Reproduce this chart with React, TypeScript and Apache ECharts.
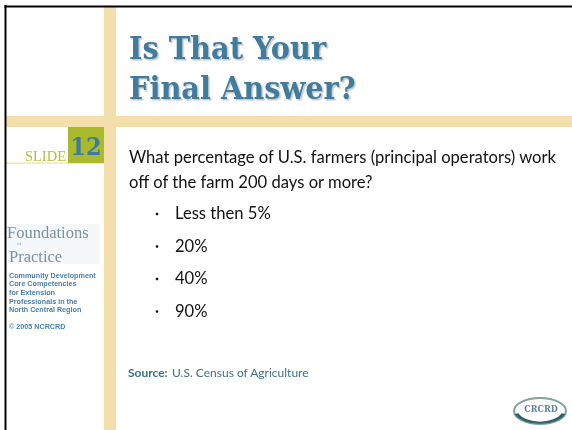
import React, { useEffect, useRef } from "react";
import * as echarts from "echarts";

const titleLines = ["Is That Your", "Final Answer?"];
const slideLabel = "SLIDE";
const slideNumber = "12";
const questionLines = [
  "What percentage of U.S. farmers (principal operators) work",
  "off of the farm 200 days or more?",
];
const answers = ["Less then 5%", "20%", "40%", "90%"];
const panelLines = [
  "Community Development",
  "Core Competencies",
  "for Extension",
  "Professionals in the",
  "North Central Region",
];
const copyright = "© 2005 NCRCRD";
const sourceLabel = "Source:";
const sourceText = "U.S. Census of Agriculture";

const TAN = "#F3DFAB";
const BLUE = "#3F7B9C";
const GREEN = "#ABBA2C";

export default function App() {
  const ref = useRef<HTMLDivElement>(null);
  useEffect(() => {
    if (!ref.current) return;
    const chart = echarts.init(ref.current, null, { renderer: "svg" });
    const els: any[] = [];
    els.push({ type: "rect", shape: { x: 0, y: 0, width: 572, height: 430 }, style: { fill: "#fff" } });
    els.push({ type: "rect", shape: { x: 104, y: 7, width: 12, height: 423 }, style: { fill: TAN } });
    els.push({ type: "rect", shape: { x: 6, y: 116, width: 566, height: 11 }, style: { fill: TAN } });
    els.push({ type: "rect", shape: { x: 6, y: 162.5, width: 98, height: 1.2 }, style: { fill: "#EFE2A8" } });
    els.push({ type: "rect", shape: { x: 68, y: 127, width: 36, height: 36 }, style: { fill: GREEN } });
    els.push({
      type: "text",
      style: { x: 86, y: 146, text: slideNumber, font: "bold 25px 'DejaVu Serif Condensed', 'DejaVu Serif'", fill: BLUE, textAlign: "center", textVerticalAlign: "middle" },
    });
    els.push({
      type: "text",
      style: { x: 66, y: 156, text: slideLabel, font: "14.5px 'Liberation Serif'", fill: "#B3C234", textAlign: "right", textVerticalAlign: "middle" },
    });
    els.push({ type: "rect", shape: { x: 4.5, y: 5, width: 2, height: 425 }, style: { fill: "#000" } });
    els.push({ type: "rect", shape: { x: 4.5, y: 5.5, width: 568, height: 2 }, style: { fill: "#000" } });
    titleLines.forEach((t, i) => {
      const y = 48 + i * 40;
      els.push({
        type: "text",
        style: {
          x: 129, y, text: t, font: "bold 32px 'DejaVu Serif Condensed'", fill: BLUE, textVerticalAlign: "middle",
          textShadowColor: "rgba(120,130,140,0.45)", textShadowOffsetX: 1.5, textShadowOffsetY: 1.5, textShadowBlur: 1.5,
        },
      });
    });
    questionLines.forEach((t, i) => {
      els.push({ type: "text", style: { x: 129, y: 157 + i * 25, text: t, font: "16.6px Lato", fill: "#111", textVerticalAlign: "middle" } });
    });
    answers.forEach((t, i) => {
      const y = 213 + i * 32.5;
      els.push({ type: "circle", shape: { cx: 157, cy: y + 1, r: 1.3 }, style: { fill: "#111" } });
      els.push({ type: "text", style: { x: 175, y, text: t, font: "16.6px Lato", fill: "#111", textVerticalAlign: "middle" } });
    });
    els.push({ type: "text", style: { x: 128, y: 372, text: sourceLabel, font: "bold 12px Lato", fill: "#3E6F8C", textVerticalAlign: "middle" } });
    els.push({ type: "text", style: { x: 172, y: 372, text: sourceText, font: "12px Lato", fill: "#3E6F8C", textVerticalAlign: "middle" } });
    els.push({ type: "rect", shape: { x: 8, y: 224, width: 92, height: 40 }, style: { fill: "#F6F7F9" } });
    els.push({ type: "text", style: { x: 7, y: 232, text: "Foundations", font: "16.5px 'Liberation Serif'", fill: "#7C90A4", textVerticalAlign: "middle" } });
    els.push({ type: "text", style: { x: 17, y: 243.3, text: "of", font: "5px 'Liberation Serif'", fill: "#7C90A4", textVerticalAlign: "middle" } });
    els.push({ type: "text", style: { x: 9, y: 256, text: "Practice", font: "16.5px 'Liberation Serif'", fill: "#7C90A4", textVerticalAlign: "middle" } });
    panelLines.forEach((t, i) => {
      els.push({ type: "text", style: { x: 9, y: 275 + i * 8.7, text: t, font: "bold 7.2px 'Liberation Sans'", fill: "#4A80A9", textVerticalAlign: "middle" } });
    });
    els.push({ type: "text", style: { x: 9, y: 326, text: copyright, font: "bold 7.2px 'Liberation Sans'", fill: "#4A80A9", textVerticalAlign: "middle" } });
    els.push({ type: "ellipse", shape: { cx: 540, cy: 411, rx: 26, ry: 13 }, style: { fill: "#fff", stroke: "#7FA596", lineWidth: 2 } });
    els.push({ type: "arc", shape: { cx: 540, cy: 409, r: 25, startAngle: 0.35, endAngle: Math.PI - 0.35 }, scaleY: 0.55, originY: 409, style: { stroke: "#2F5F6A", lineWidth: 4, fill: "none" } });
    els.push({ type: "text", style: { x: 541, y: 409, text: "CRCRD", font: "bold 9px 'DejaVu Serif Condensed'", fill: "#5D7F98", textAlign: "center", textVerticalAlign: "middle" } });

    chart.setOption({ animation: false, graphic: { elements: els } });
    return () => chart.dispose();
  }, []);
  return <div ref={ref} style={{ position: "fixed", left: 0, top: 0, width: 572, height: 430 }} />;
}
